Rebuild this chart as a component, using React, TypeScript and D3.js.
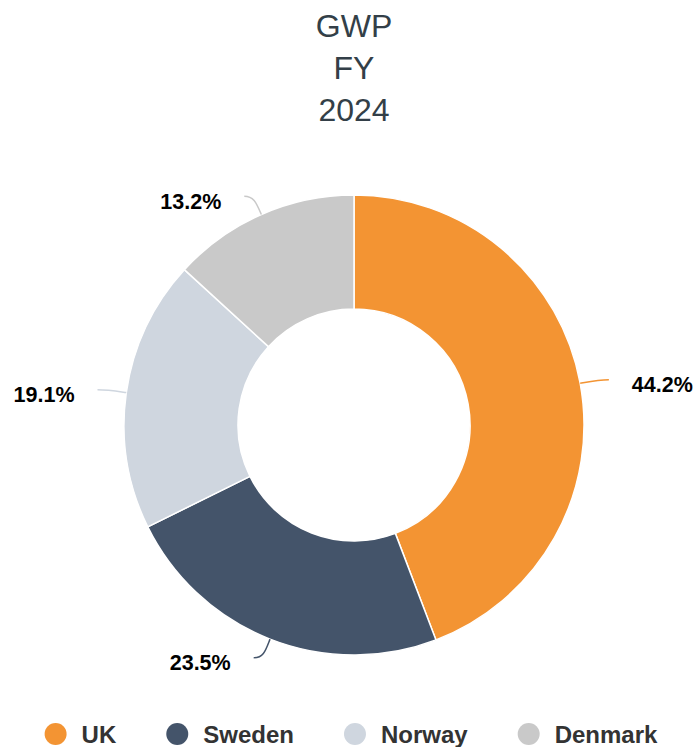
import React, { useEffect, useRef } from "react";
import * as d3 from "d3";

const categories = ["UK", "Sweden", "Norway", "Denmark"];
const values = [44.2, 23.5, 19.1, 13.2];
const colors = ["#f39433", "#44546a", "#cfd6df", "#c9c9c9"];
const titleLines = ["GWP", "FY", "2024"];

const W = 693;
const H = 747;
const FONT = "'Liberation Sans', Arial, Helvetica, sans-serif";

export default function App() {
  const ref = useRef<SVGSVGElement>(null);

  useEffect(() => {
    const svg = d3.select(ref.current);
    svg.selectAll("*").remove();

    const cx = 354;
    const cy = 425;
    const outerR = 230;
    const innerR = 116;

    // Title
    svg
      .append("g")
      .selectAll("text")
      .data(titleLines)
      .join("text")
      .attr("x", cx)
      .attr("y", (_d, i) => 37 + i * 42)
      .attr("text-anchor", "middle")
      .attr("font-family", FONT)
      .attr("font-size", 32)
      .attr("fill", "#333f48")
      .text((d) => d);

    const data = categories.map((c, i) => ({ name: c, value: values[i], color: colors[i] }));
    const pie = d3
      .pie<any>()
      .sort(null)
      .value((d: any) => d.value)
      .startAngle(0)
      .endAngle(2 * Math.PI);
    const arcs = pie(data);
    const arc = d3.arc<any>().innerRadius(innerR).outerRadius(outerR);

    const g = svg.append("g").attr("transform", `translate(${cx},${cy})`);

    g.selectAll("path.slice")
      .data(arcs)
      .join("path")
      .attr("class", "slice")
      .attr("d", arc as any)
      .attr("fill", (d: any) => d.data.color)
      .attr("stroke", "#ffffff")
      .attr("stroke-width", 1.5)
      .attr("stroke-linejoin", "round");

    // Data labels with soft connectors
    const labelR = 250;
    arcs.forEach((d: any) => {
      const a = (d.startAngle + d.endAngle) / 2;
      const dx = Math.sin(a);
      const dy = -Math.cos(a);
      const left = dx < 0;
      const sgn = left ? -1 : 1;
      const sx = outerR * dx;
      const sy = outerR * dy;
      const ex = labelR * dx + sgn * 9;
      const ey = labelR * dy;
      const c1x = sx + dx * 12;
      const c1y = sy + dy * 12;
      const c2x = ex - sgn * 10;
      const c2y = ey;
      g.append("path")
        .attr("d", `M${sx},${sy}C${c1x},${c1y} ${c2x},${c2y} ${ex},${ey}`)
        .attr("fill", "none")
        .attr("stroke", d.data.color)
        .attr("stroke-width", 1.5);
      g.append("text")
        .attr("x", ex + sgn * 23)
        .attr("y", ey + 5)
        .attr("dy", "0.35em")
        .attr("text-anchor", left ? "end" : "start")
        .attr("font-family", FONT)
        .attr("font-size", 21.5)
        .attr("font-weight", "bold")
        .attr("fill", "#000000")
        .text(`${d.data.value.toFixed(1)}%`);
    });

    // Legend
    const lg = svg.append("g");
    const items = lg
      .selectAll("g.item")
      .data(data)
      .join("g")
      .attr("class", "item");
    items
      .append("circle")
      .attr("r", 11)
      .attr("cx", 11)
      .attr("cy", 734)
      .attr("fill", (d: any) => d.color);
    items
      .append("text")
      .attr("x", 37)
      .attr("y", 743)
      .attr("font-family", FONT)
      .attr("font-size", 24)
      .attr("font-weight", "bold")
      .attr("fill", "#333333")
      .text((d: any) => d.name);

    const widths: number[] = [];
    items.each(function () {
      const t = d3.select(this).select("text").node() as SVGTextElement;
      widths.push(37 + t.getComputedTextLength());
    });
    const spacing = 50;
    const total = widths.reduce((s, w) => s + w, 0) + spacing * (widths.length - 1);
    let x = 351 - total / 2;
    items.each(function (_d, i) {
      d3.select(this).attr("transform", `translate(${x},0)`);
      x += widths[i] + spacing;
    });
  }, []);

  return (
    <svg
      ref={ref}
      width={W}
      height={H}
      style={{ position: "absolute", left: 0, top: 0, display: "block", background: "#ffffff" }}
    />
  );
}
